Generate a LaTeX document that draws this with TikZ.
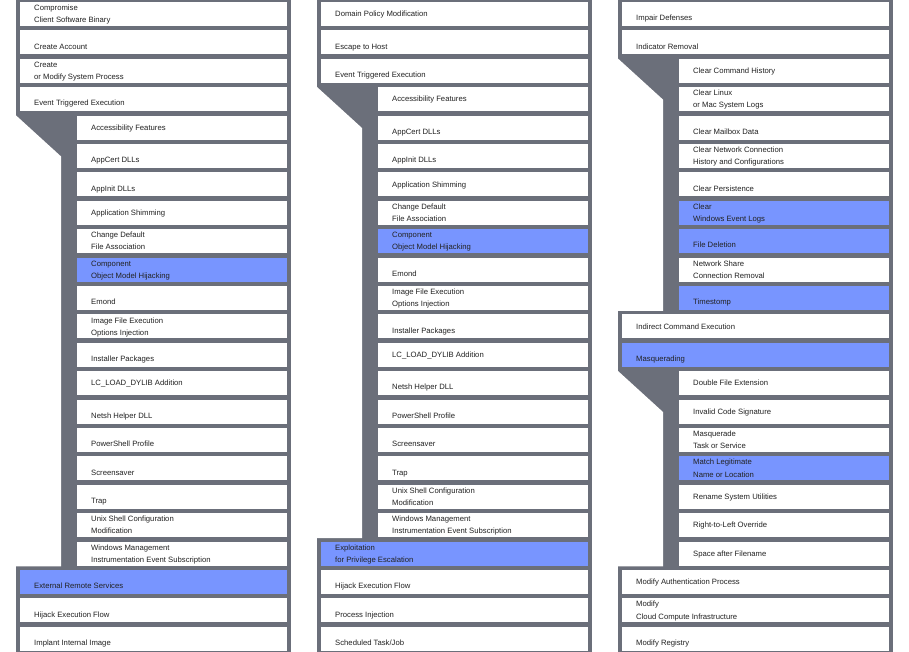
\documentclass[tikz,border=0pt]{standalone}
\usepackage{fontspec}
\setmainfont{Liberation Sans}
\definecolor{colgray}{HTML}{6B6F7A}
\definecolor{hiblue}{HTML}{7895FF}
\definecolor{txtcol}{HTML}{222222}
\tikzset{
  cellbox/.style={draw=none, inner sep=0pt, minimum height=24pt, anchor=north west},
  lbltxt/.style={inner sep=0pt, anchor=base west, text=txtcol, font=\fontsize{7.7}{9}\selectfont},
  colbg/.style={fill=colgray},
  notch/.style={fill=white}
}
\newcommand\drawcells[3]{% #1 column id, #2 left x, #3 list row/sub/fill
  \foreach \r/\s/\f in {#3} {
    \pgfmathsetmacro\cx{#2+4+57*\s}
    \pgfmathsetmacro\cw{267-57*\s}
    \pgfmathsetmacro\cy{1.8+28.4*(\r-1)}
    \node[cellbox, fill=\f, minimum width=\cw pt] (c#1r\r) at (\cx,\cy) {};
  }}
\newcommand\drawnotch[3]{% #1 left x, #2 first sub row, #3 last sub row
  \pgfmathsetmacro\nt{1.8+28.4*(#2-1)}
  \pgfmathsetmacro\nb{1.8+28.4*(#3-1)+25}
  \fill[notch] (#1,\nt) -- ({#1+45},{\nt+41}) -- ({#1+45},\nb) -- (#1,\nb) -- cycle;
}
\newcommand\tx[4]{\node[lbltxt] (#1) at ({#2},{#3+3.6}) {#4};}
\begin{document}
\begin{tikzpicture}[x=1pt,y=-1pt]
\useasboundingbox (0,0) rectangle (909,652);
\fill[white] (0,0) rectangle (909,652);
% column backgrounds
\fill[colbg] (16,0) rectangle (291,652);
\fill[colbg] (317,0) rectangle (592,652);
\fill[colbg] (618,0) rectangle (893,652);
% notches
\drawnotch{16}{5}{20}
\drawnotch{317}{4}{19}
\drawnotch{618}{3}{11}
\drawnotch{618}{14}{20}
% cells
\drawcells{a}{16}{1/0/white,2/0/white,3/0/white,4/0/white,5/1/white,6/1/white,7/1/white,8/1/white,9/1/white,10/1/hiblue,11/1/white,12/1/white,13/1/white,14/1/white,15/1/white,16/1/white,17/1/white,18/1/white,19/1/white,20/1/white,21/0/hiblue,22/0/white,23/0/white}
\drawcells{b}{317}{1/0/white,2/0/white,3/0/white,4/1/white,5/1/white,6/1/white,7/1/white,8/1/white,9/1/hiblue,10/1/white,11/1/white,12/1/white,13/1/white,14/1/white,15/1/white,16/1/white,17/1/white,18/1/white,19/1/white,20/0/hiblue,21/0/white,22/0/white,23/0/white}
\drawcells{c}{618}{1/0/white,2/0/white,3/1/white,4/1/white,5/1/white,6/1/white,7/1/white,8/1/hiblue,9/1/hiblue,10/1/white,11/1/hiblue,12/0/white,13/0/hiblue,14/1/white,15/1/white,16/1/white,17/1/hiblue,18/1/white,19/1/white,20/1/white,21/0/white,22/0/white,23/0/white}
% column 1 texts
\tx{a1a}{34}{7}{Compromise}
\tx{a1b}{34}{19}{Client Software Binary}
\tx{a2}{34}{46}{Create Account}
\tx{a3a}{34}{64}{Create}
\tx{a3b}{34}{76}{or Modify System Process}
\tx{a4}{34}{102}{Event Triggered Execution}
\tx{a5}{91}{127}{Accessibility Features}
\tx{a6}{91}{159}{AppCert DLLs}
\tx{a7}{91}{188}{AppInit DLLs}
\tx{a8}{91}{212}{Application Shimming}
\tx{a9a}{91}{234}{Change Default}
\tx{a9b}{91}{246}{File Association}
\tx{a10a}{91}{263}{Component}
\tx{a10b}{91}{275}{Object Model Hijacking}
\tx{a11}{91}{301}{Emond}
\tx{a12a}{91}{320}{Image File Execution}
\tx{a12b}{91}{332}{Options Injection}
\tx{a13}{91}{358}{Installer Packages}
\tx{a14}{91}{382}{LC\_LOAD\_DYLIB Addition}
\tx{a15}{91}{415}{Netsh Helper DLL}
\tx{a16}{91}{443}{PowerShell Profile}
\tx{a17}{91}{472}{Screensaver}
\tx{a18}{91}{500}{Trap}
\tx{a19a}{91}{518}{Unix Shell Configuration}
\tx{a19b}{91}{530}{Modification}
\tx{a20a}{91}{547}{Windows Management}
\tx{a20b}{91}{559}{Instrumentation Event Subscription}
\tx{a21}{34}{585}{External Remote Services}
\tx{a22}{34}{614}{Hijack Execution Flow}
\tx{a23}{34}{642}{Implant Internal Image}
% column 2 texts
\tx{b1}{335}{13}{Domain Policy Modification}
\tx{b2}{335}{46}{Escape to Host}
\tx{b3}{335}{74}{Event Triggered Execution}
\tx{b4}{392}{98}{Accessibility Features}
\tx{b5}{392}{131}{AppCert DLLs}
\tx{b6}{392}{159}{AppInit DLLs}
\tx{b7}{392}{184}{Application Shimming}
\tx{b8a}{392}{206}{Change Default}
\tx{b8b}{392}{218}{File Association}
\tx{b9a}{392}{234}{Component}
\tx{b9b}{392}{246}{Object Model Hijacking}
\tx{b10}{392}{273}{Emond}
\tx{b11a}{392}{291}{Image File Execution}
\tx{b11b}{392}{303}{Options Injection}
\tx{b12}{392}{330}{Installer Packages}
\tx{b13}{392}{354}{LC\_LOAD\_DYLIB Addition}
\tx{b14}{392}{386}{Netsh Helper DLL}
\tx{b15}{392}{415}{PowerShell Profile}
\tx{b16}{392}{443}{Screensaver}
\tx{b17}{392}{472}{Trap}
\tx{b18a}{392}{490}{Unix Shell Configuration}
\tx{b18b}{392}{502}{Modification}
\tx{b19a}{392}{518}{Windows Management}
\tx{b19b}{392}{530}{Instrumentation Event Subscription}
\tx{b20a}{335}{547}{Exploitation}
\tx{b20b}{335}{559}{for Privilege Escalation}
\tx{b21}{335}{585}{Hijack Execution Flow}
\tx{b22}{335}{614}{Process Injection}
\tx{b23}{335}{642}{Scheduled Task/Job}
% column 3 texts
\tx{c1}{636}{17}{Impair Defenses}
\tx{c2}{636}{46}{Indicator Removal}
\tx{c3}{693}{70}{Clear Command History}
\tx{c4a}{693}{92}{Clear Linux}
\tx{c4b}{693}{104}{or Mac System Logs}
\tx{c5}{693}{131}{Clear Mailbox Data}
\tx{c6a}{693}{149}{Clear Network Connection}
\tx{c6b}{693}{161}{History and Configurations}
\tx{c7}{693}{188}{Clear Persistence}
\tx{c8a}{693}{206}{Clear}
\tx{c8b}{693}{218}{Windows Event Logs}
\tx{c9}{693}{244}{File Deletion}
\tx{c10a}{693}{263}{Network Share}
\tx{c10b}{693}{275}{Connection Removal}
\tx{c11}{693}{301}{Timestomp}
\tx{c12}{636}{326}{Indirect Command Execution}
\tx{c13}{636}{358}{Masquerading}
\tx{c14}{693}{382}{Double File Extension}
\tx{c15}{693}{411}{Invalid Code Signature}
\tx{c16a}{693}{433}{Masquerade}
\tx{c16b}{693}{445}{Task or Service}
\tx{c17a}{693}{461}{Match Legitimate}
\tx{c17b}{693}{474}{Name or Location}
\tx{c18}{693}{496}{Rename System Utilities}
\tx{c19}{693}{524}{Right-to-Left Override}
\tx{c20}{693}{553}{Space after Filename}
\tx{c21}{636}{581}{Modify Authentication Process}
\tx{c22a}{636}{603}{Modify}
\tx{c22b}{636}{616}{Cloud Compute Infrastructure}
\tx{c23}{636}{642}{Modify Registry}
\end{tikzpicture}
\end{document}
